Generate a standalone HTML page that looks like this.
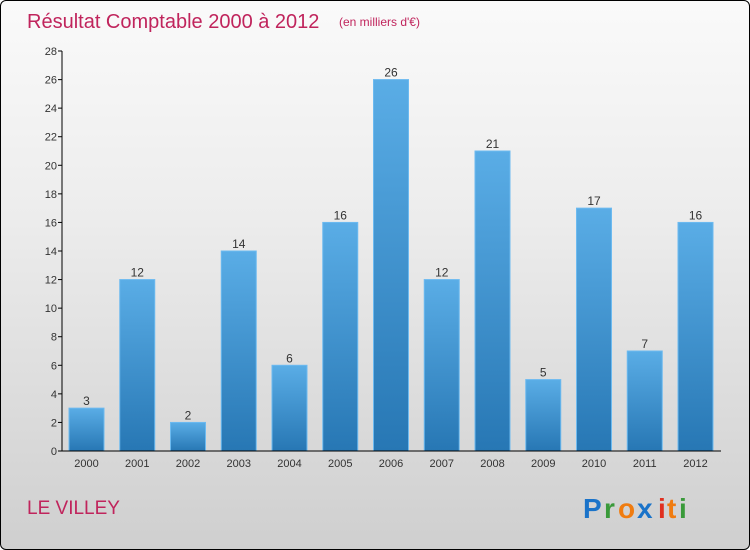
<!DOCTYPE html>
<html><head><meta charset="utf-8"><style>
body{margin:0;width:750px;height:550px;overflow:hidden;font-family:"Liberation Sans",sans-serif}
#wrap{position:absolute;left:0;top:0;width:748px;height:548px;border:1px solid #000;border-radius:6px;background:linear-gradient(#fafafa,#ececec 40%,#cfcfcf);overflow:hidden}
</style></head><body>
<div id="wrap">
<svg id="c" width="750" height="550">
<defs><linearGradient id="bg" x1="0" y1="0" x2="0" y2="1"><stop offset="0" stop-color="#5aade6"/><stop offset="1" stop-color="#2777b4"/></linearGradient></defs>
<text x="26" y="27" font-size="20" fill="#c0245c">Résultat Comptable 2000 à 2012</text>
<text x="338" y="25" font-size="12" fill="#c0245c">(en milliers d'€)</text>
<text x="26" y="513" font-size="19" fill="#c0245c">LE VILLEY</text>
<g font-size="28" font-weight="bold">
<text x="582" y="517" fill="#1a73c9">P</text><text x="603" y="517" fill="#3a9a3a">r</text><text x="617" y="517" fill="#f07c10">o</text><text x="636" y="517" fill="#1a73c9">x</text><text x="657" y="517" fill="#e03020">i</text><text x="666" y="517" fill="#f07c10">t</text><text x="678" y="517" fill="#3a9a3a">i</text>
</g>
</svg></div>
<script>
const categories=["2000","2001","2002","2003","2004","2005","2006","2007","2008","2009","2010","2011","2012"];
const values=[3,12,2,14,6,16,26,12,21,5,17,7,16];
const ticks=[0,2,4,6,8,10,12,14,16,18,20,22,24,26,28];
const svg=document.getElementById('c');const NS='http://www.w3.org/2000/svg';
const y0=450,y1=50,vmax=28,xL=61,xR=720;
const y=v=>y0-(v/vmax)*(y0-y1);
const step=50.75,bw=35,x=i=>68+i*step;
function mk(t,a,p){const e=document.createElementNS(NS,t);for(const k in a)e.setAttribute(k,a[k]);(p||svg).appendChild(e);return e;}
ticks.forEach(t=>{
const tl=mk('line',{x1:xL-4,x2:xL,y1:y(t),y2:y(t),stroke:'#000'});


const tx=mk('text',{x:xL-5,y:y(t)+4,'text-anchor':'end','font-size':11,fill:'#333'});tx.textContent=t;


});
values.forEach((v,i)=>{
const r=mk('rect',{x:x(i),y:y(v),width:bw,height:y0-y(v),fill:'url(#bg)',stroke:'#6cbaf0','stroke-width':1});


const l=mk('text',{x:x(i)+bw/2,y:y(v)-3,'text-anchor':'middle','font-size':12,fill:'#333'});l.textContent=v;


const c=mk('text',{x:x(i)+bw/2,y:466,'text-anchor':'middle','font-size':11,fill:'#333'});c.textContent=categories[i];


});
const ya=mk('line',{x1:xL,x2:xL,y1:y1,y2:y0,stroke:'#000'});


const xa=mk('line',{x1:xL,x2:xR,y1:y0,y2:y0,stroke:'#000'});


</script>
</body></html>
